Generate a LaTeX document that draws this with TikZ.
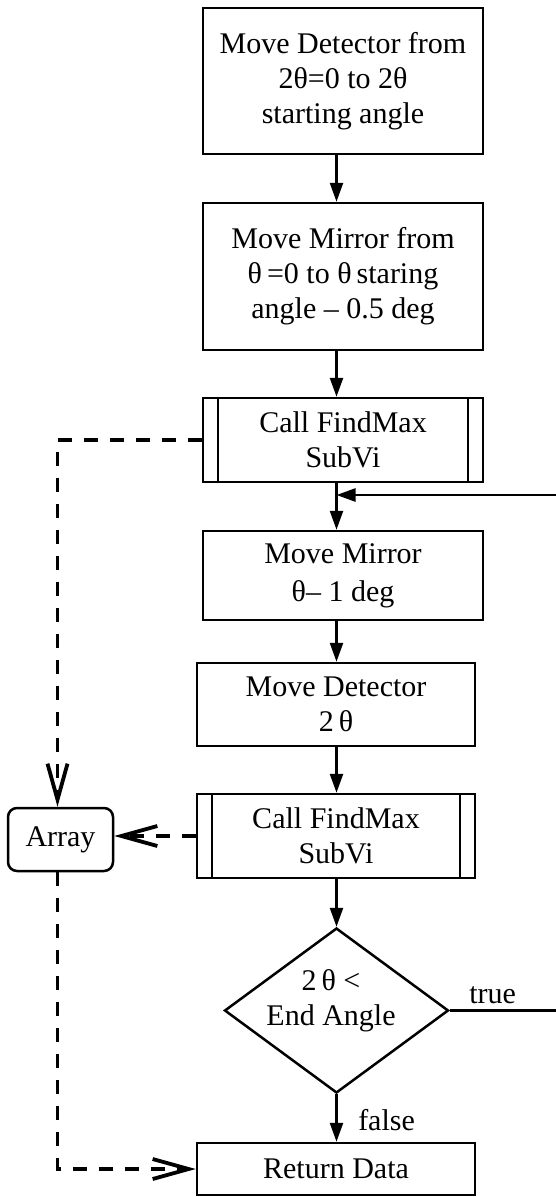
\documentclass[tikz,border=0pt]{standalone}
\usepackage{fontspec}
\setmainfont{Liberation Serif}
\usetikzlibrary{arrows.meta,shapes.geometric}

\begin{document}
\begin{tikzpicture}[x=1pt,y=-1pt,
  font=\fontsize{30}{35}\selectfont,
  line width=2.5pt,
  every node/.style={inner sep=0pt},
  procbox/.style n args={2}{draw, rectangle, align=center,
    minimum width=#1pt, minimum height=#2pt},
  subbox/.style n args={2}{procbox={#1}{#2},
    path picture={
      \draw ([xshift=15pt]path picture bounding box.north west)
         -- ([xshift=15pt]path picture bounding box.south west);
      \draw ([xshift=-15pt]path picture bounding box.north east)
         -- ([xshift=-15pt]path picture bounding box.south east);}},
  storebox/.style={draw, rectangle, rounded corners=9pt, align=center,
    minimum width=105pt, minimum height=63pt},
  flow/.style={-{Triangle[length=19pt,width=13pt]}, line width=2.5pt},
  datalink/.style={-{Straight Barb[length=36pt,width=20pt]},
    line width=3.8pt, dash pattern=on 14pt off 12pt}]

\useasboundingbox (0,0) rectangle (555,1197);

% main column of steps
\node[procbox={280}{146}] (b1) at (343,81)
  {Move Detector from\\2θ=0 to 2θ\\starting angle};
\node[procbox={280}{147}] (b2) at (343,276.5)
  {Move Mirror from\\θ\,=0 to θ\,staring\hspace*{12pt}\\angle – 0.5 deg};
\node[subbox={280}{84}] (f1) at (343,440) {Call FindMax\\SubVi};
\node[procbox={280}{89}] (b4) at (343,575.5) {Move Mirror\\[3pt]θ– 1 deg};
\node[procbox={278}{83}] (b5) at (336,704.5) {Move Detector\\2\,θ};
\node[subbox={278}{84}] (f2) at (336,836) {Call FindMax\\SubVi};
\node[draw, diamond, minimum width=224pt, minimum height=165pt,
  inner sep=0pt] (dec) at (336.5,1010.5) {};
\node[align=center] (dectext) at (331,1001) {2\,θ <\\End Angle};
\node[procbox={278}{52}] (ret) at (336,1169) {Return Data};

% data store on the left
\node[storebox] (arr) at (60.5,839.5) {Array};

% routing helpers
\coordinate (col) at (336.5,0);
\coordinate (dcol) at (57.5,0);
\coordinate (loop) at (559,495);
\coordinate (join) at (col |- loop);

% control flow
\draw[flow] (b1.south -| col) -- (b2.north -| col);
\draw[flow] (b2.south -| col) -- (f1.north -| col);
\draw[flow] (f1.south -| col) -- (b4.north -| col);
\draw[flow] (b4.south -| col) -- (b5.north -| col);
\draw[flow] (b5.south -| col) -- (f2.north -| col);
\draw[flow] (f2.south -| col) -- (dec.north);
\draw[flow] (dec.south) -- (ret.north -| dec.south);
\draw[flow] (dec.east) -- (dec.east -| loop) -- (loop) -- (join);

\node[anchor=base west] (ttrue) at (468,1003) {true};
\node[anchor=base west] (tfalse) at (357,1130) {false};

% data links
\draw[datalink] (f1.west) -- (f1.west -| dcol) -- (arr.north -| dcol);
\draw[datalink] (f2.west) -- (f2.west -| arr.east);
\draw[datalink] (arr.south -| dcol) -- (dcol |- ret.west) -- (ret.west);
\end{tikzpicture}
\end{document}
